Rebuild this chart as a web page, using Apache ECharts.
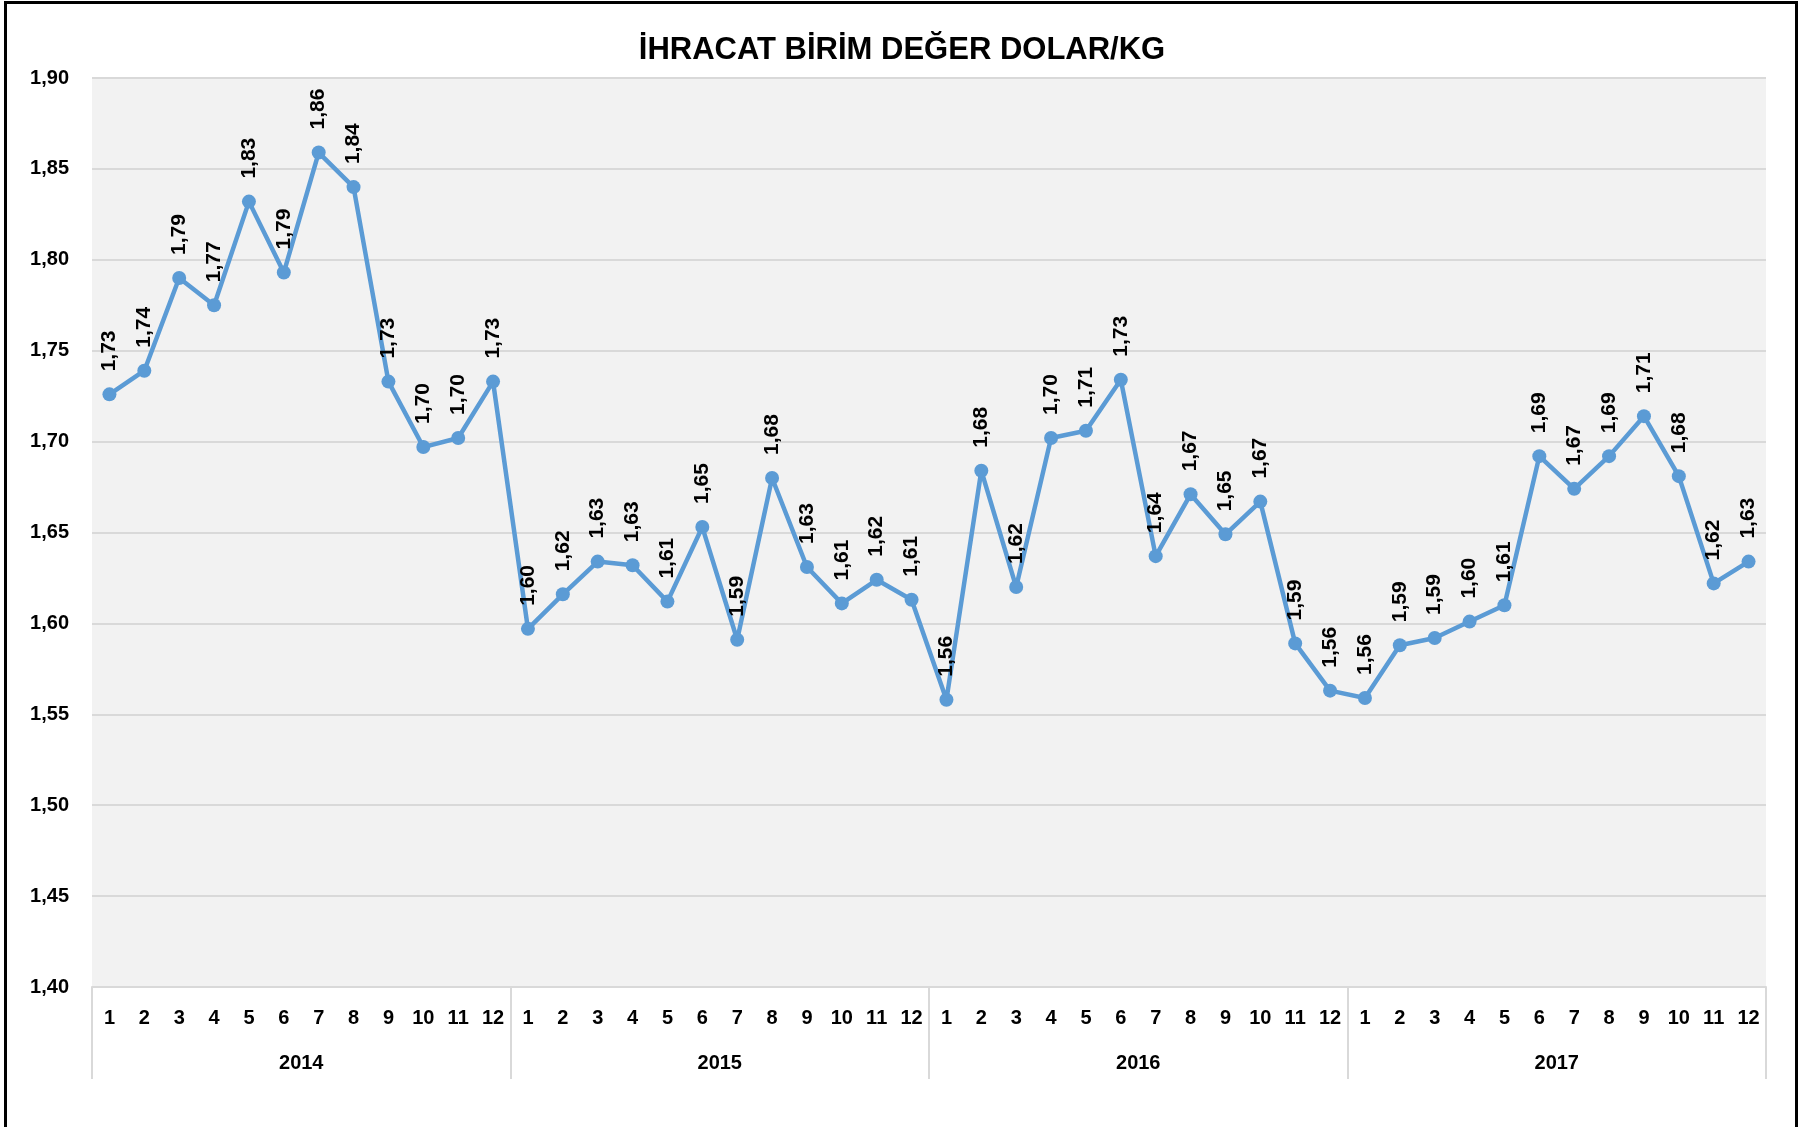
<!DOCTYPE html>
<html>
<head>
<meta charset="utf-8">
<title>İhracat Birim Değer</title>
<script src="https://cdn.jsdelivr.net/npm/echarts@6/dist/echarts.min.js"></script>
<style>
  html, body { margin: 0; padding: 0; background: #fff; }
  #chart { position: absolute; left: 0; top: 0; width: 1804px; height: 1127px; }
  /* cerceve: alt kenar yok */
  #frame {
    position: absolute; left: 4px; top: 1px; width: 1788px; height: 1140px;
    border: 3px solid #000; border-bottom: none; pointer-events: none;
  }
</style>
</head>
<body>
<div id="chart"></div>
<div id="frame"></div>
<script>
// aylar ve yillar
const months = ['1', '2', '3', '4', '5', '6', '7', '8', '9', '10', '11', '12'];
const years = ['2014', '2015', '2016', '2017'];

// dolar/kg degerleri, yil yil
const values2014 = [1.726, 1.739, 1.790, 1.775, 1.832, 1.793, 1.859, 1.840, 1.733, 1.697, 1.702, 1.733];
const values2015 = [1.597, 1.616, 1.634, 1.632, 1.612, 1.653, 1.591, 1.680, 1.631, 1.611, 1.624, 1.613];
const values2016 = [1.558, 1.684, 1.620, 1.702, 1.706, 1.734, 1.637, 1.671, 1.649, 1.667, 1.589, 1.563];
const values2017 = [1.559, 1.588, 1.592, 1.601, 1.610, 1.692, 1.674, 1.692, 1.714, 1.681, 1.622, 1.634];

const yTicks = { min: 1.40, max: 1.90, step: 0.05 };

const allValues = [].concat(values2014, values2015, values2016, values2017);
const monthLabels = [];
years.forEach(() => months.forEach(m => monthLabels.push(m)));

const fmt = v => Number(v).toFixed(2).replace('.', ',');

const chart = echarts.init(document.getElementById('chart'));

chart.setOption({
  backgroundColor: '#fff',
  animation: false,
  title: {
    text: 'İHRACAT BİRİM DEĞER DOLAR/KG',
    left: 'center',
    top: 30,
    textStyle: {
      fontFamily: 'Liberation Sans',
      fontWeight: 'bold',
      fontSize: 31,
      color: '#000'
    }
  },
  grid: {
    left: 92,
    right: 38,
    top: 78,
    bottom: 140,
    show: true,
    backgroundColor: '#f2f2f2',
    borderWidth: 0
  },
  xAxis: [
    {
      type: 'category',
      data: monthLabels,
      position: 'bottom',
      boundaryGap: true,
      axisLine: { show: true, lineStyle: { color: '#d9d9d9', width: 2 } },
      axisTick: { show: false },
      axisLabel: {
        interval: 0,
        margin: 21,
        color: '#000',
        fontFamily: 'Liberation Sans',
        fontWeight: 'bold',
        fontSize: 20
      },
      splitLine: { show: false }
    },
    {
      type: 'category',
      data: years,
      position: 'bottom',
      boundaryGap: true,
      axisLine: { show: false },
      axisTick: {
        show: true,
        interval: 0,
        length: 92,
        lineStyle: { color: '#d9d9d9', width: 2 }
      },
      axisLabel: {
        interval: 0,
        margin: 66,
        color: '#000',
        fontFamily: 'Liberation Sans',
        fontWeight: 'bold',
        fontSize: 20
      },
      splitLine: { show: false }
    }
  ],
  yAxis: {
    type: 'value',
    min: yTicks.min,
    max: yTicks.max,
    interval: yTicks.step,
    axisLine: { show: false },
    axisTick: { show: false },
    axisLabel: {
      margin: 23,
      color: '#000',
      fontFamily: 'Liberation Sans',
      fontWeight: 'bold',
      fontSize: 20,
      formatter: v => fmt(v)
    },
    splitLine: { lineStyle: { color: '#d9d9d9', width: 2 } }
  },
  series: [
    {
      name: 'Birim Değer',
      type: 'line',
      xAxisIndex: 0,
      data: allValues,
      symbol: 'circle',
      symbolSize: 14,
      lineStyle: { color: '#5b9bd5', width: 4.5 },
      itemStyle: { color: '#5b9bd5' },
      label: {
        show: true,
        position: 'top',
        distance: 16,
        rotate: 90,
        align: 'left',
        verticalAlign: 'middle',
        color: '#000',
        fontFamily: 'Liberation Sans',
        fontWeight: 'bold',
        fontSize: 21,
        formatter: p => fmt(p.value)
      }
    }
  ]
});
</script>
</body>
</html>
